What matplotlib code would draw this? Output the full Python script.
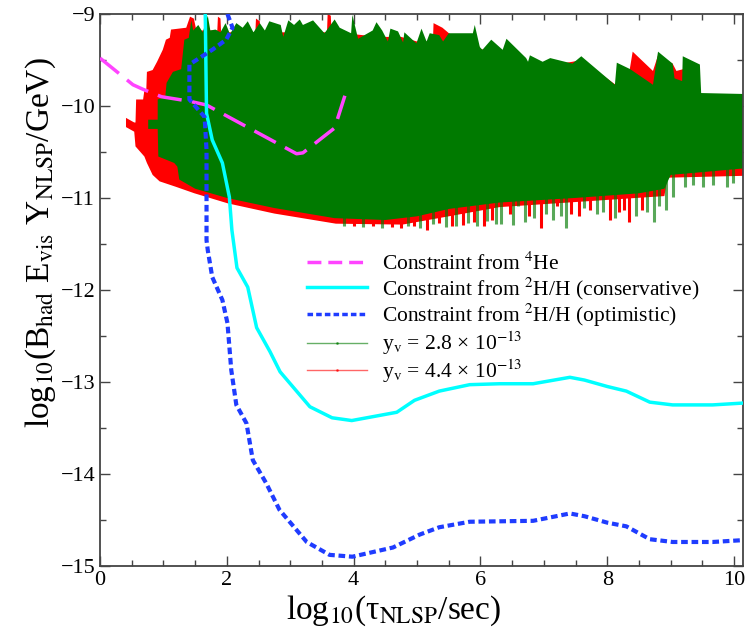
import numpy as np
import matplotlib
matplotlib.use("Agg")
import matplotlib.pyplot as plt
from matplotlib.lines import Line2D
from matplotlib.ticker import MultipleLocator

plt.rcParams['font.family'] = ['Liberation Serif', 'DejaVu Serif']
plt.rcParams['mathtext.fontset'] = 'stix'

# constraint curves (log10 tau, log10 B E Y)
he4_x = [0.0, 0.52, 0.68, 0.97, 1.42, 1.68, 3.1, 3.2, 3.7, 3.88]
he4_y = [-9.48, -9.77, -9.82, -9.90, -9.95, -9.99, -10.52, -10.51, -10.24, -9.85]

cons_x = [1.66, 1.68, 1.77, 1.93, 2.04, 2.08, 2.16, 2.33, 2.47, 2.68, 2.84, 3.31, 3.66,
          3.97, 4.68, 4.96, 5.35, 5.83, 6.30, 6.83, 7.41, 7.64, 8.0, 8.30, 8.67, 9.03,
          9.66, 10.14]
cons_y = [-9.0, -10.08, -10.37, -10.62, -10.99, -11.35, -11.76, -11.97, -12.41, -12.67,
          -12.89, -13.27, -13.39, -13.42, -13.33, -13.20, -13.10, -13.03, -13.02, -13.02,
          -12.95, -12.98, -13.05, -13.10, -13.22, -13.25, -13.25, -13.23]

opt_x = [2.01, 2.09, 1.99, 1.77, 1.41, 1.41, 1.65, 1.68, 1.68, 1.70, 1.77, 1.93, 2.01,
         2.07, 2.15, 2.31, 2.41, 2.62, 2.83, 3.26, 3.62, 3.98, 4.62, 5.04, 5.35, 5.83,
         6.83, 7.41, 7.64, 8.0, 8.30, 8.67, 9.03, 9.66, 10.14]
opt_y = [-9.0, -9.15, -9.28, -9.39, -9.55, -9.93, -10.12, -10.48, -11.46, -11.57, -11.86,
         -12.11, -12.36, -12.87, -13.25, -13.45, -13.85, -14.10, -14.39, -14.74, -14.88,
         -14.90, -14.80, -14.66, -14.58, -14.52, -14.51, -14.43, -14.46, -14.53, -14.57,
         -14.71, -14.74, -14.74, -14.72]

# scan region, y_v = 4.4e-13 (red)
red_top_x = [0.41, 0.54, 0.56, 0.57, 0.68, 0.70, 0.73, 0.74, 0.83, 0.90, 0.99, 1.04, 1.10,
             1.12, 1.36, 1.42, 1.48, 1.52, 1.85, 1.86, 1.90, 1.91, 2.45, 2.46, 2.52, 2.53,
             3.0, 3.58, 3.59, 3.64, 3.65, 4.0, 4.4, 4.72, 4.75, 5.0, 5.25, 5.26, 5.40,
             5.52, 5.88, 6.0, 6.35, 6.5, 7.0, 7.45, 7.6, 8.15, 8.35, 8.40, 8.72, 8.80,
             9.03, 9.09, 9.2, 9.48, 10.14]
red_top_y = [-10.13, -10.18, -10.18, -9.93, -9.93, -9.83, -9.83, -9.63, -9.61, -9.52,
             -9.39, -9.28, -9.26, -9.17, -9.15, -9.03, -9.05, -9.18, -9.18, -9.03, -9.05,
             -9.20, -9.20, -9.05, -9.08, -9.20, -9.20, -9.20, -9.0, -9.02, -9.20, -9.22,
             -9.25, -9.25, -9.25, -9.30, -9.30, -9.10, -9.15, -9.22, -9.22, -9.38, -9.45,
             -9.48, -9.57, -9.52, -9.50, -9.78, -9.62, -9.41, -9.62, -9.45, -9.54, -9.62,
             -9.60, -9.87, -9.88]
red_bot_x = [0.41, 0.54, 0.56, 0.70, 0.74, 0.83, 0.94, 1.2, 1.49, 2.02, 2.75, 3.72, 4.77,
             5.5, 6.3, 8.9, 8.95, 10.14]
red_bot_y = [-10.23, -10.28, -10.44, -10.55, -10.62, -10.75, -10.82, -10.88, -10.95,
             -11.06, -11.17, -11.28, -11.29, -11.2, -11.1, -10.98, -10.78, -10.76]

# scan region, y_v = 2.8e-13 (green)
grn_top_x = [0.76, 0.91, 0.91, 1.03, 1.05, 1.15, 1.28, 1.33, 1.40, 1.44, 1.47, 1.55, 1.62,
             1.70, 1.74, 1.82, 1.90, 1.98, 2.05, 2.15, 2.25, 2.33, 2.42, 2.52, 2.60, 2.67,
             2.85, 2.89, 2.97, 3.06, 3.15, 3.20, 3.36, 3.54, 3.70, 3.78, 3.96, 3.98, 4.07,
             4.30, 4.36, 4.45, 4.54, 4.58, 4.70, 4.78, 4.80, 4.99, 5.07, 5.15, 5.20, 5.35,
             5.41, 5.50, 5.88, 5.91, 5.99, 6.03, 6.17, 6.35, 6.41, 6.72, 6.75, 6.78, 6.98,
             7.10, 7.45, 7.59, 8.12, 8.15, 8.36, 8.72, 8.80, 9.03, 9.06, 9.18, 9.19, 9.46,
             9.48, 10.14]
grn_top_y = [-10.15, -10.15, -9.93, -9.90, -9.75, -9.63, -9.60, -9.28, -9.26, -9.07, -9.18,
             -9.12, -9.20, -9.02, -9.18, -9.17, -9.20, -9.10, -9.22, -9.10, -9.15, -9.08,
             -9.20, -9.10, -9.18, -9.08, -9.12, -9.25, -9.07, -9.12, -9.06, -9.12, -9.07,
             -9.21, -9.06, -9.15, -9.21, -9.01, -9.27, -9.18, -9.09, -9.18, -9.30, -9.16,
             -9.19, -9.31, -9.20, -9.32, -9.16, -9.30, -9.21, -9.23, -9.30, -9.21, -9.21,
             -9.12, -9.36, -9.39, -9.28, -9.39, -9.27, -9.48, -9.52, -9.45, -9.52, -9.48,
             -9.54, -9.46, -9.77, -9.53, -9.60, -9.77, -9.41, -9.54, -9.70, -9.73, -9.46,
             -9.55, -9.86, -9.87]
grn_bot_x = [0.76, 0.91, 0.92, 1.17, 1.22, 1.25, 1.50, 2.0, 2.75, 3.7, 4.5, 5.0, 5.5, 6.3,
             7.5, 8.5, 8.9, 9.0, 10.14]
grn_bot_y = [-10.25, -10.25, -10.55, -10.62, -10.66, -10.80, -10.90, -11.0, -11.11, -11.22,
             -11.24, -11.2, -11.12, -11.05, -11.0, -10.95, -10.9, -10.75, -10.68]

# loose lower points of the scans
grn_spike_x = [3.85, 4.15, 4.45, 4.85, 5.05, 5.25, 5.45, 5.62, 5.80, 5.95, 6.10, 6.25,
               6.33, 6.52, 6.59, 6.70, 6.85, 7.04, 7.14, 7.27, 7.35, 7.64, 7.83, 7.93,
               8.12, 8.46, 8.62, 8.73, 8.82, 8.93, 9.03, 9.22, 9.35, 9.51, 9.67, 9.88, 9.98]
grn_spike_y = [-11.30, -11.32, -11.33, -11.30, -11.33, -11.28, -11.32, -11.30, -11.27,
               -11.31, -11.25, -11.28, -11.28, -11.29, -11.09, -11.26, -11.22, -11.17,
               -11.24, -11.20, -11.33, -11.11, -11.17, -11.15, -11.22, -11.20, -11.15,
               -11.26, -11.09, -11.13, -10.99, -10.88, -10.86, -10.88, -10.86, -10.88,
               -10.84]
red_spike_x = [4.0, 4.3, 4.6, 4.75, 4.95, 5.15, 5.35, 5.55, 5.72, 5.90, 6.05, 6.18, 6.46,
               6.77, 6.96, 7.20, 7.43, 7.56, 7.72, 8.04, 8.19, 8.27, 8.35, 8.54]
red_spike_y = [-11.31, -11.30, -11.32, -11.33, -11.30, -11.35, -11.27, -11.31, -11.29,
               -11.26, -11.30, -11.24, -11.17, -11.20, -11.33, -11.09, -11.17, -11.20,
               -11.13, -11.24, -11.15, -11.13, -11.26, -11.13]

labels = ['Constraint from $^{4}$He',
          'Constraint from $^{2}$H/H (conservative)',
          'Constraint from $^{2}$H/H (optimistic)',
          'y$_{\\mathrm{v}}$ = 2.8 \u00d7 10$^{-13}$',
          'y$_{\\mathrm{v}}$ = 4.4 \u00d7 10$^{-13}$']

GREEN = '#007a00'
RED = '#ff0000'
MAGENTA = '#ff44ff'
CYAN = '#00ffff'
BLUE = '#1f3cff'

fig = plt.figure(figsize=(7.49, 6.33), dpi=100)
ax = fig.add_axes([0.1335, 0.106, 0.8585, 0.872])

ax.fill(np.r_[red_top_x, red_bot_x[::-1]], np.r_[red_top_y, red_bot_y[::-1]],
        color=RED, lw=0, zorder=1)
ax.vlines(red_spike_x, red_spike_y, -10.6, color=RED, lw=2.2, zorder=1.5)
ax.vlines(grn_spike_x, grn_spike_y, -10.6, color=GREEN, lw=2.2, alpha=0.65, zorder=1.6)
ax.fill(np.r_[grn_top_x, grn_bot_x[::-1]], np.r_[grn_top_y, grn_bot_y[::-1]],
        color=GREEN, lw=0, zorder=2)

ax.plot(he4_x, he4_y, color=MAGENTA, lw=2.5, dashes=(7, 3), zorder=4)
ax.plot(cons_x, cons_y, color=CYAN, lw=2.5, zorder=4)
ax.plot(opt_x, opt_y, color=BLUE, lw=3, dashes=(1.6, 0.9), zorder=4)

ax.set_xlim(0, 10.14)
ax.set_ylim(-15, -9)
ax.xaxis.set_major_locator(MultipleLocator(2))
ax.xaxis.set_minor_locator(MultipleLocator(0.5))
ax.yaxis.set_major_locator(MultipleLocator(1))
ax.yaxis.set_minor_locator(MultipleLocator(0.5))
ax.tick_params(which='both', direction='in', top=True, right=True, color='#444444',
               labelsize=16, width=1)
ax.tick_params(which='major', length=7)
ax.tick_params(which='minor', length=4)
for s in ax.spines.values():
    s.set_color('#444444')
    s.set_linewidth(1.3)

ax.set_xlabel('log$_{10}$(\u03c4$_{\\mathrm{NLSP}}$/sec)', fontsize=24, va='center')
ax.set_ylabel('log$_{10}$(B$_{\\mathrm{had}}$ E$_{\\mathrm{vis}}$ Y$_{\\mathrm{NLSP}}$/GeV)',
              fontsize=24, va='center')
ax.xaxis.set_label_coords(0.457, -0.082)
ax.yaxis.set_label_coords(-0.092, 0.585)

handles = [Line2D([], [], color=MAGENTA, lw=2.5, dashes=(4, 2)),
           Line2D([], [], color=CYAN, lw=2.5),
           Line2D([], [], color=BLUE, lw=2.5, dashes=(1.6, 0.9)),
           Line2D([], [], color=GREEN, lw=1, alpha=0.6, marker='.', markersize=2),
           Line2D([], [], color=RED, lw=1, alpha=0.6, marker='.', markersize=2)]
ax.legend(handles, labels, loc='upper left', bbox_to_anchor=(0.322, 0.568),
          frameon=False, fontsize=15.5, handlelength=2.8, handletextpad=0.7,
          labelspacing=0.02, borderpad=0, borderaxespad=0)

fig.savefig('out.png', dpi=100)
